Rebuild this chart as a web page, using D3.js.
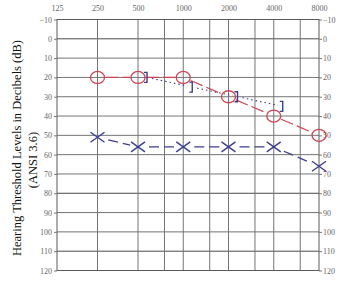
<!DOCTYPE html>
<html>
<head>
<meta charset="utf-8">
<script src="https://cdn.jsdelivr.net/npm/d3@7"></script>
<style>
  body { margin: 0; background: #fff; }
  text { font-family: "Liberation Serif", "DejaVu Serif", serif; }
</style>
</head>
<body>
<svg id="chart" width="353" height="282"></svg>
<script>
// audiogram values
var freqLabels = [125, 250, 500, 1000, 2000, 4000, 8000];
var gridFreqs = [250, 500, 750, 1000, 1500, 2000, 3000, 4000, 6000];
var dbTicks = [-10, 0, 10, 20, 30, 40, 50, 60, 70, 80, 90, 100, 110, 120];

var airFreqs = [250, 500, 1000, 2000, 4000, 8000];
var rightAir = [20, 20, 20, 30, 40, 50];      // red O
var leftAir = [51, 56, 56, 56, 56, 66];       // blue X
var boneFreqs = [500, 1000, 2000, 4000];
var bone = [20, 25, 30, 35];                  // blue ]

var red = "#cf4556", blue = "#3b3e8e", gridCol = "#747474";

var svg = d3.select("#chart");

var x = d3.scaleLog()
    .domain([125, 500, 8000])
    .range([57, 138, 319]);
var y = d3.scaleLinear()
    .domain([-10, 120])
    .range([19.5, 270.5]);

// grid
svg.append("g").selectAll("line")
    .data(dbTicks)
    .enter().append("line")
    .attr("x1", x(125)).attr("x2", x(8000))
    .attr("y1", d => y(d)).attr("y2", d => y(d))
    .attr("stroke", d => (d == 0 || d == 80 || d == 110) ? "#4a4a4a" : gridCol)
    .attr("stroke-width", 1);

svg.append("g").selectAll("line")
    .data(gridFreqs)
    .enter().append("line")
    .attr("x1", d => x(d)).attr("x2", d => x(d))
    .attr("y1", y(-10)).attr("y2", y(120))
    .attr("stroke", gridCol)
    .attr("stroke-width", 1);

svg.append("rect")
    .attr("x", x(125)).attr("y", y(-10))
    .attr("width", x(8000) - x(125)).attr("height", y(120) - y(-10))
    .attr("fill", "none").attr("stroke", "#5a5a5a").attr("stroke-width", 1);

// axes
var leftAxis = svg.append("g").attr("transform", "translate(" + x(125) + ",0)")
    .call(d3.axisLeft(y).tickValues(dbTicks).tickSize(3).tickPadding(2));
var rightAxis = svg.append("g").attr("transform", "translate(" + x(8000) + ",0)")
    .call(d3.axisRight(y).tickValues(dbTicks).tickSize(3).tickPadding(1));
var topAxis = svg.append("g").attr("transform", "translate(0,8)")
    .call(d3.axisTop(x).tickValues(freqLabels).tickFormat(d3.format("d")).tickSize(0).tickPadding(0));

[leftAxis, rightAxis, topAxis].forEach(g => {
    g.select(".domain").remove();
    g.selectAll(".tick line").attr("stroke", "#777");
    g.selectAll("text")
        .attr("fill", "#666")
        .style("font-size", "8px")
        .style("font-family", "Liberation Serif, serif");
});
topAxis.selectAll("text").attr("dy", "0.35em");

// y title
svg.append("text")
    .attr("transform", "translate(21,148) rotate(-90)")
    .attr("text-anchor", "middle")
    .style("font-size", "12.5px")
    .attr("fill", "#111")
    .text("Hearing Threshold Levels in Decibels (dB)");
svg.append("text")
    .attr("transform", "translate(37,160) rotate(-90)")
    .attr("text-anchor", "middle")
    .style("font-size", "12.5px")
    .attr("fill", "#111")
    .text("(ANSI 3.6)");

// connecting lines, trimmed at the markers
function segments(fs, vs, dx, trim) {
    var pts = fs.map((f, i) => [x(f) + dx, y(vs[i])]);
    var segs = [];
    for (var i = 0; i < pts.length - 1; i++) {
        var a = pts[i], b = pts[i + 1];
        var len = Math.hypot(b[0] - a[0], b[1] - a[1]);
        var ux = (b[0] - a[0]) / len, uy = (b[1] - a[1]) / len;
        segs.push([a[0] + ux * trim, a[1] + uy * trim, b[0] - ux * trim, b[1] - uy * trim]);
    }
    return segs;
}

function drawSegs(segs, color, dash, offset, width) {
    svg.append("g").selectAll("line")
        .data(segs)
        .enter().append("line")
        .attr("x1", d => d[0]).attr("y1", d => d[1])
        .attr("x2", d => d[2]).attr("y2", d => d[3])
        .attr("stroke", color)
        .attr("stroke-width", width)
        .attr("stroke-dasharray", dash)
        .attr("stroke-dashoffset", offset);
}

drawSegs(segments(airFreqs, rightAir, 0, 8), red, "13,4", 0, 1.2);
drawSegs(segments(airFreqs, leftAir, 0, 8), blue, "10,5", -3, 1.3);
drawSegs(segments(boneFreqs, bone, 9, 5), blue, "1.5,3", 0, 1.1);

// red O markers
svg.append("g").selectAll("ellipse")
    .data(airFreqs)
    .enter().append("ellipse")
    .attr("cx", d => x(d))
    .attr("cy", (d, i) => y(rightAir[i]))
    .attr("rx", 7).attr("ry", 6)
    .attr("fill", "none")
    .attr("stroke", red)
    .attr("stroke-width", 1.3);

// blue X markers
svg.append("g").selectAll("path")
    .data(airFreqs)
    .enter().append("path")
    .attr("d", (d, i) => {
        var cx = x(d), cy = y(leftAir[i]);
        return "M" + (cx - 7) + "," + (cy - 5) + "L" + (cx + 7) + "," + (cy + 5) +
            "M" + (cx - 7) + "," + (cy + 5) + "L" + (cx + 7) + "," + (cy - 5);
    })
    .attr("fill", "none")
    .attr("stroke", blue)
    .attr("stroke-width", 1.4);

// blue ] markers (bone conduction)
svg.append("g").selectAll("path.bc")
    .data(boneFreqs)
    .enter().append("path")
    .attr("class", "bc")
    .attr("d", (d, i) => {
        var cx = x(d) + 9, cy = y(bone[i]);
        return "M" + (cx - 3) + "," + (cy - 5) + "H" + cx + "V" + (cy + 5) + "H" + (cx - 3);
    })
    .attr("fill", "none")
    .attr("stroke", blue)
    .attr("stroke-width", 1.4);
</script>
</body>
</html>
